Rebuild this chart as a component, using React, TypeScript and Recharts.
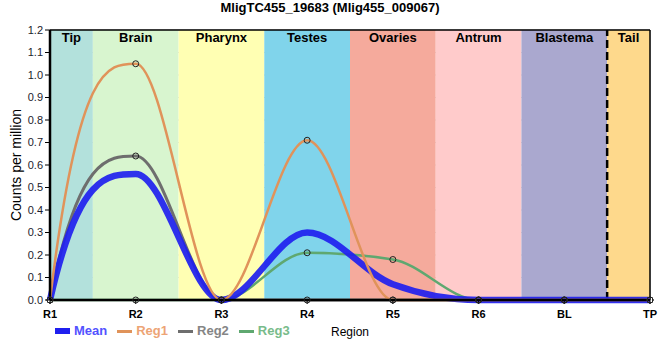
import React from "react";
import {
  LineChart,
  Line,
  XAxis,
  YAxis,
  CartesianGrid,
  ReferenceArea,
  ReferenceLine,
} from "recharts";

const categories = ["R1", "R2", "R3", "R4", "R5", "R6", "BL", "TP"];
const meanValues = [0, 0.56, 0, 0.3, 0.07, 0, 0, 0];
const reg1Values = [0, 1.05, 0, 0.71, 0, 0, 0, 0];
const reg2Values = [0, 0.64, 0, 0, 0, 0, 0, 0];
const reg3Values = [0, 0, 0, 0.21, 0.18, 0, 0, 0];
const yTicks = [0, 0.1, 0.2, 0.3, 0.4, 0.5, 0.6, 0.7, 0.8, 0.9, 1.0, 1.1, 1.2];

const regionNames = ["Tip", "Brain", "Pharynx", "Testes", "Ovaries", "Antrum", "Blastema", "Tail"];
const regionStarts = [0, 0.5, 1.5, 2.5, 3.5, 4.5, 5.5, 6.5];
const regionEnds = [0.5, 1.5, 2.5, 3.5, 4.5, 5.5, 6.5, 7];
const regionColors = ["#b3e1dc", "#d8f5cf", "#ffffb3", "#80d4eb", "#f5aa9c", "#ffcbcb", "#aaa8cf", "#fed98c"];
const tailBoundary = 6.5;

const FONT = '"Liberation Sans", Arial, sans-serif';

const series = [
  { key: "Reg3", color: "#5fa870", text: "#78bb8a", width: 2.5, dots: true },
  { key: "Reg2", color: "#6e6e6e", text: "#858585", width: 3, dots: true },
  { key: "Mean", color: "#1f1fef", text: "#5252ff", width: 6.5, dots: false },
  { key: "Reg1", color: "#e0935a", text: "#eda475", width: 2.5, dots: true },
];
const legendOrder = ["Mean", "Reg1", "Reg2", "Reg3"];

const data = categories.map((name, i) => ({
  x: i,
  name,
  Mean: meanValues[i],
  Reg1: reg1Values[i],
  Reg2: reg2Values[i],
  Reg3: reg3Values[i],
}));

// monotone hermite spline, steep ends (tangent up to 3x the secant)
function smoothCurve(context: any) {
  let xs: number[] = [];
  let ys: number[] = [];
  return {
    areaStart() {},
    areaEnd() {},
    lineStart() {
      xs = [];
      ys = [];
    },
    point(x: number, y: number) {
      xs.push(+x);
      ys.push(+y);
    },
    lineEnd() {
      const n = xs.length;
      if (!n) return;
      context.moveTo(xs[0], ys[0]);
      if (n === 1) return;
      const h: number[] = [];
      const s: number[] = [];
      for (let i = 0; i < n - 1; i++) {
        h[i] = xs[i + 1] - xs[i];
        s[i] = h[i] ? (ys[i + 1] - ys[i]) / h[i] : 0;
      }
      const m = new Array(n).fill(0);
      for (let i = 1; i < n - 1; i++) {
        const a = s[i - 1];
        const b = s[i];
        if (a * b <= 0) continue;
        const p = (a * h[i] + b * h[i - 1]) / (h[i - 1] + h[i]);
        m[i] = Math.sign(a) * 2 * Math.min(Math.abs(a), Math.abs(b), 0.5 * Math.abs(p));
      }
      const endSlope = (sec: number, inner: number) => {
        const v = 3 * sec - 2 * inner;
        if (sec === 0) return 0;
        return sec > 0 ? Math.min(Math.max(v, 0), 3 * sec) : Math.max(Math.min(v, 0), 3 * sec);
      };
      m[0] = n > 2 ? endSlope(s[0], m[1]) : s[0];
      m[n - 1] = n > 2 ? endSlope(s[n - 2], m[n - 2]) : s[n - 2];
      for (let i = 0; i < n - 1; i++) {
        const d = h[i] / 3;
        context.bezierCurveTo(
          xs[i] + d,
          ys[i] + m[i] * d,
          xs[i + 1] - d,
          ys[i + 1] - m[i + 1] * d,
          xs[i + 1],
          ys[i + 1]
        );
      }
    },
  };
}

export default function App() {
  return (
    <div style={{ position: "absolute", left: 0, top: 0, width: 660, height: 360, fontFamily: FONT, background: "#fff" }}>
      <div
        style={{
          position: "absolute",
          top: 0,
          left: 0,
          width: 660,
          textAlign: "center",
          fontSize: 13,
          fontWeight: "bold",
          lineHeight: "15px",
          color: "#000",
        }}
      >
        MligTC455_19683 (Mlig455_009067)
      </div>
      <LineChart
        width={660}
        height={360}
        data={data}
        margin={{ top: 30, right: 10, bottom: 0, left: 0 }}
        style={{ fontFamily: FONT }}
      >
        {regionNames.map((name, i) => (
          <ReferenceArea
            key={name}
            x1={regionStarts[i]}
            x2={regionEnds[i]}
            fill={regionColors[i]}
            fillOpacity={1}
            stroke="none"
            label={{
              value: name,
              position: "insideTop",
              offset: 3,
              fill: "#000",
              fontSize: 13,
              fontWeight: "bold",
              fontFamily: FONT,
            }}
          />
        ))}
        <CartesianGrid stroke="#c8c8c8" strokeWidth={1} />
        <XAxis
          dataKey="x"
          type="number"
          domain={[0, 7]}
          ticks={categories.map((_, i) => i)}
          interval={0}
          tickFormatter={(v: number) => categories[v] ?? ""}
          axisLine={{ stroke: "#000", strokeWidth: 2.5 }}
          tickLine={{ stroke: "#000" }}
          tickSize={4}
          tickMargin={6}
          tick={{ fill: "#000", fontSize: 11, fontWeight: "bold", fontFamily: FONT }}
          height={60}
          label={{ value: "Region", position: "insideBottom", offset: 24, fill: "#000", fontSize: 12, fontFamily: FONT }}
        />
        <YAxis
          type="number"
          domain={[0, 1.2]}
          ticks={yTicks}
          interval={0}
          tickFormatter={(v: number) => v.toFixed(1)}
          axisLine={{ stroke: "#000", strokeWidth: 2.5 }}
          tickLine={{ stroke: "#000" }}
          tickSize={5}
          tickMargin={2}
          tick={{ fill: "#1c1c2c", fontSize: 11, fontFamily: FONT }}
          width={50}
          label={{
            value: "Counts per million",
            angle: -90,
            position: "insideLeft",
            offset: 16,
            fill: "#000",
            fontSize: 14,
            fontFamily: FONT,
            style: { textAnchor: "middle" },
          }}
        />
        <ReferenceLine y={1.2} stroke="#000" strokeWidth={1.5} />
        <ReferenceLine x={7} stroke="#000" strokeWidth={1.5} />
        <ReferenceLine x={tailBoundary} stroke="#000" strokeWidth={2.5} strokeDasharray="8 4" />
        {series.map((s) => (
          <Line
            key={s.key}
            dataKey={s.key}
            type={smoothCurve as any}
            stroke={s.color}
            strokeWidth={s.width}
            strokeOpacity={s.key === "Mean" ? 0.92 : 1}
            dot={s.dots ? { r: 3, stroke: "#222", strokeWidth: 1, fill: "none" } : false}
            activeDot={false}
            isAnimationActive={false}
          />
        ))}
      </LineChart>
      <div
        style={{
          position: "absolute",
          left: 55,
          top: 323,
          height: 16,
          display: "flex",
          alignItems: "center",
          gap: 10,
          fontSize: 13,
          fontWeight: "bold",
          lineHeight: "16px",
        }}
      >
        {legendOrder.map((k) => {
          const s = series.find((d) => d.key === k)!;
          return (
            <div key={k} style={{ display: "flex", alignItems: "center" }}>
              <span
                style={{
                  display: "inline-block",
                  width: 15,
                  height: k === "Mean" ? 6 : 3,
                  background: s.color,
                  marginRight: 4,
                }}
              />
              <span style={{ color: s.text }}>{k}</span>
            </div>
          );
        })}
      </div>
    </div>
  );
}
